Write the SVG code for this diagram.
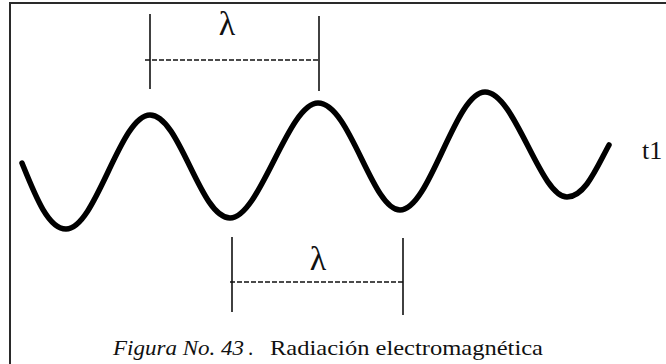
<svg xmlns="http://www.w3.org/2000/svg" width="666" height="364" viewBox="0 0 666 364">
<style>
.frame{fill:none;stroke:#2a2a2a;stroke-width:2}
.wave{fill:none;stroke:#000;stroke-width:5.5;stroke-linecap:round;stroke-linejoin:round}
.tick{stroke:#111;stroke-width:1.6}
.dash{stroke:#111;stroke-width:1.4;stroke-dasharray:5 2}
.lam{font-family:"Liberation Serif","Times New Roman",serif;font-size:34px;fill:#111;text-anchor:middle}
.lbl{font-family:"Liberation Serif","Times New Roman",serif;font-size:26px;fill:#111}
.cap{font-family:"Liberation Serif","Times New Roman",serif;font-size:21px;fill:#111}
</style>
<rect class="frame" x="10" y="3" width="700" height="420"/>
<g id="wave">
<path class="wave" d="M22,163 C35,195 48,229 66,229 C96,229 120,115 150,115 C180,115 200,218 230,218 C260,218 288,103 318,103 C350,103 372,210 400,210 C430,210 455,92 485,92 C515,92 540,197 567,197 C585,197 597,167 609,145"/>
</g>
<g id="lambda-top">
<line class="tick" x1="150" y1="14" x2="150" y2="89"/>
<line class="tick" x1="319" y1="16" x2="319" y2="91"/>
<line class="dash" x1="145" y1="60" x2="319" y2="60"/>
<text class="lam" x="227" y="35">λ</text>
</g>
<g id="lambda-bottom">
<line class="tick" x1="232" y1="237" x2="232" y2="312"/>
<line class="tick" x1="403" y1="238" x2="403" y2="315"/>
<line class="dash" x1="230" y1="282" x2="403" y2="282"/>
<text class="lam" x="318" y="270">λ</text>
</g>
<g id="label-t1">
<text class="lbl" x="642" y="159">t1</text>
</g>
<g id="caption">
<text class="cap" x="113" y="355" font-style="italic" fill="#14143a" textLength="131" lengthAdjust="spacingAndGlyphs">Figura No. 43</text>
<text class="cap" x="248" y="355" fill="#2040a0">.</text>
<text class="cap" x="270" y="355" textLength="273" lengthAdjust="spacingAndGlyphs">Radiación electromagnética</text>
</g>
</svg>
